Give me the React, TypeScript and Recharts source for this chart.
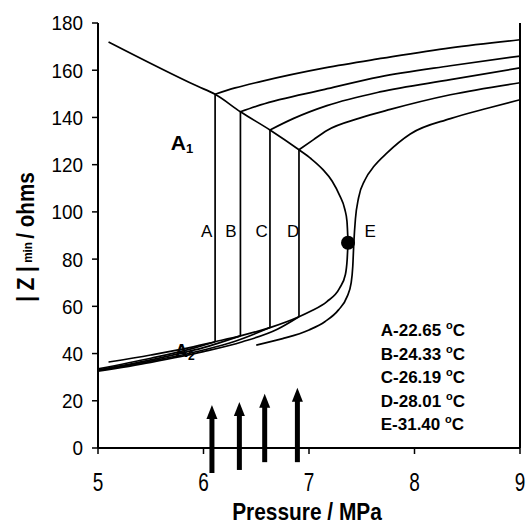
import { LineChart, Line, XAxis, YAxis, ReferenceLine, ReferenceDot } from 'recharts';

/* Impedance minimum vs pressure, CO2 isotherms A-E with two-phase envelope */

const FONT = "'Liberation Sans', Arial, sans-serif";

// phase envelope
const dewP = [5.1, 5.94, 6.11, 6.35, 6.63, 6.905, 7.02, 7.13, 7.22, 7.29, 7.34, 7.36, 7.37];
const dewZ = [172, 153.3, 149.8, 142.4, 134.7, 126.3, 122.5, 118, 113, 107, 101, 96, 86.9];
const bubP = [5.1, 5.5, 5.8, 6.11, 6.35, 6.63, 6.905, 7.01, 7.17, 7.29, 7.345, 7.362, 7.37];
const bubZ = [36.4, 39.4, 41.9, 45, 47.5, 51, 55.6, 57.8, 62, 67.7, 73.5, 80, 86.9];

// tie lines (vertical segments of isotherms A-D)
const tieP = [6.11, 6.35, 6.63, 6.905];
const tieLowZ = [45, 47.5, 51, 55.6];
const tieHighZ = [149.8, 142.4, 134.7, 126.3];

// liquid-side branches
const aLiqP = [5.0, 5.5, 5.9, 6.11];
const aLiqZ = [33.5, 38, 42.2, 45];
const bLiqP = [5.0, 5.5, 6.0, 6.35];
const bLiqZ = [33, 37.3, 42.5, 47.5];
const cLiqP = [5.0, 5.5, 6.0, 6.3, 6.63];
const cLiqZ = [32.8, 36.8, 41.5, 45.2, 51];
const dLiqP = [5.0, 5.5, 6.0, 6.37, 6.7, 6.905];
const dLiqZ = [32.5, 36.3, 40.8, 45, 50.3, 55.6];

// vapour-side branches
const aVapP = [6.11, 6.3, 6.54, 7.15, 7.7, 8.34, 9.0];
const aVapZ = [149.8, 152.5, 155.2, 161, 165.1, 169.5, 172.9];
const bVapP = [6.35, 6.54, 7.15, 7.67, 8.34, 9.0];
const bVapZ = [142.4, 145.3, 151.9, 157.2, 161.9, 166];
const cVapP = [6.63, 6.85, 7.17, 7.67, 8.34, 9.0];
const cVapZ = [134.7, 139.5, 145, 150.8, 156, 161];
const dVapP = [6.905, 7.04, 7.17, 7.48, 7.77, 8.34, 9.0];
const dVapZ = [126.3, 130.5, 134.5, 139.7, 143.4, 149.6, 154.7];

// supercritical isotherm E
const eP = [6.5, 6.75, 7.0, 7.15, 7.28, 7.36, 7.4, 7.415, 7.425, 7.44, 7.47, 7.53, 7.62, 7.74, 7.96, 8.34, 8.7, 9.0];
const eZ = [43.6, 46.3, 50, 53.5, 58.5, 64, 70, 77, 87, 97, 106, 113.5, 119.5, 125, 133, 139.5, 144, 147.5];

// critical point
const critP = 7.37;
const critZ = 86.9;

// arrows under the tie lines
const arrowP = [6.08, 6.34, 6.58, 6.89];
const arrowTip = [18.2, 19.5, 23, 25.5];
const arrowBase = [-10.6, -9.3, -6, -6];

const curveLabels = ['A', 'B', 'C', 'D', 'E'];
const curveLabelP = [6.03, 6.26, 6.55, 6.85, 7.58];
const curveLabelZ = 89.4;

const tempLabels = ['A-22.65', 'B-24.33', 'C-26.19', 'D-28.01', 'E-31.40'];
const tempLabelZ = [47.5, 37.3, 27.5, 17.4, 7.6];
const tempLabelP = 7.68;

const xTicks = [5, 6, 7, 8, 9];
const yTicks = [0, 20, 40, 60, 80, 100, 120, 140, 160, 180];

const pts = (ps: number[], zs: number[]) => ps.map((p, i) => ({ p, z: zs[i] }));

const series = [
  pts(dewP, dewZ),
  pts(bubP, bubZ),
  pts(aLiqP, aLiqZ),
  pts(bLiqP, bLiqZ),
  pts(cLiqP, cLiqZ),
  pts(dLiqP, dLiqZ),
  pts(aVapP, aVapZ),
  pts(bVapP, bVapZ),
  pts(cVapP, cVapZ),
  pts(dVapP, dVapZ),
  pts(eP, eZ),
  ...tieP.map((p, i) => pts([p, p], [tieLowZ[i], tieHighZ[i]])),
];

const Arrow = (props: any) => {
  const { x1, y1, x2, y2 } = props;
  const top = Math.min(y1, y2);
  const bottom = Math.max(y1, y2);
  const x = (x1 + x2) / 2;
  const head = 14;
  return (
    <g>
      <line x1={x} y1={bottom} x2={x} y2={top + head - 1} stroke="#000" strokeWidth={5} />
      <polygon points={`${x},${top} ${x - 5.5},${top + head} ${x + 5.5},${top + head}`} fill="#000" />
    </g>
  );
};

// narrow-looking tick labels (no condensed font available)
const XTick = ({ x, y, payload }: any) => (
  <text
    transform={`translate(${x},${y}) scale(0.76,1)`}
    textAnchor="middle"
    dy="0.71em"
    fontFamily={FONT}
    fontSize={25}
    fill="#000"
  >
    {payload.value}
  </text>
);

const YTick = ({ x, y, payload }: any) => (
  <text
    transform={`translate(${x},${y}) scale(0.9,1)`}
    textAnchor="end"
    dy="0.355em"
    fontFamily={FONT}
    fontSize={21}
    fill="#000"
  >
    {payload.value}
  </text>
);

const YLabel = () => (
  <text
    transform="translate(26,237) rotate(-90) scale(0.9,1)"
    textAnchor="middle"
    dominantBaseline="central"
    fontFamily={FONT}
    fontWeight="bold"
    fontSize={23}
    fill="#000"
  >
    | Z |<tspan fontSize={13} dy={2}> min </tspan>
    <tspan dy={-2}>/ ohms</tspan>
  </text>
);

const XLabel = () => (
  <text
    transform="translate(307,520) scale(0.87,1)"
    textAnchor="middle"
    fontFamily={FONT}
    fontWeight="bold"
    fontSize={24}
    fill="#000"
  >
    Pressure / MPa
  </text>
);

const App = () => {
  return (
    <div
      style={{
        position: 'absolute',
        left: 0,
        top: 0,
        width: 526,
        height: 527,
        overflow: 'hidden',
        fontFamily: FONT,
        background: '#fff',
      }}
    >
      <LineChart width={526} height={527} margin={{ top: 23, right: 6, bottom: 34, left: 38 }}>
        <XAxis
          type="number"
          dataKey="p"
          domain={[5, 9]}
          ticks={xTicks}
          allowDataOverflow
          height={45}
          axisLine={{ stroke: '#000', strokeWidth: 2 }}
          tickLine={{ stroke: '#000', strokeWidth: 1.5 }}
          tickSize={6}
          tickMargin={19}
          tick={<XTick />}
          label={<XLabel />}
        />
        <YAxis
          type="number"
          dataKey="z"
          domain={[0, 180]}
          ticks={yTicks}
          allowDataOverflow
          width={60}
          axisLine={{ stroke: '#000', strokeWidth: 2 }}
          tickLine={{ stroke: '#000', strokeWidth: 1.5 }}
          tickSize={6}
          tickMargin={9}
          tick={<YTick />}
          label={<YLabel />}
        />
        <ReferenceLine x={9} stroke="#000" strokeWidth={2} ifOverflow="visible" />
        {series.map((d, i) => (
          <Line
            key={i}
            data={d}
            dataKey="z"
            type="monotone"
            stroke="#000"
            strokeWidth={1.7}
            dot={false}
            activeDot={false}
            isAnimationActive={false}
          />
        ))}
        <ReferenceDot x={critP} y={critZ} r={7} fill="#000" stroke="none" />
        {arrowP.map((p, i) => (
          <ReferenceLine
            key={`arrow-${i}`}
            segment={[{ x: p, y: arrowBase[i] }, { x: p, y: arrowTip[i] }]}
            ifOverflow="visible"
            shape={Arrow}
          />
        ))}
        {curveLabels.map((t, i) => (
          <ReferenceDot
            key={`cl-${t}`}
            x={curveLabelP[i]}
            y={curveLabelZ}
            r={0}
            shape={(p: any) => (
              <text x={p.cx} y={p.cy} textAnchor="middle" fontFamily={FONT} fontSize={17} fill="#000">
                {t}
              </text>
            )}
          />
        ))}
        <ReferenceDot
          x={5.69}
          y={126.3}
          r={0}
          shape={(p: any) => (
            <text x={p.cx} y={p.cy} fontFamily={FONT} fontWeight="bold" fontSize={21} fill="#000">
              A<tspan fontSize={13} dy={3}>1</tspan>
            </text>
          )}
        />
        <ReferenceDot
          x={5.73}
          y={38.6}
          r={0}
          shape={(p: any) => (
            <text x={p.cx} y={p.cy} fontFamily={FONT} fontWeight="bold" fontSize={18} fill="#000">
              A<tspan fontSize={12} dy={3}>2</tspan>
            </text>
          )}
        />
        {tempLabels.map((t, i) => (
          <ReferenceDot
            key={`tl-${i}`}
            x={tempLabelP}
            y={tempLabelZ[i]}
            r={0}
            shape={(p: any) => (
              <text x={p.cx} y={p.cy} fontFamily={FONT} fontWeight="bold" fontSize={17} fill="#000">
                {t}{' '}
                <tspan fontSize={11} dy={-7}>o</tspan>
                <tspan dy={7}>C</tspan>
              </text>
            )}
          />
        ))}
      </LineChart>
    </div>
  );
};

export default App;
